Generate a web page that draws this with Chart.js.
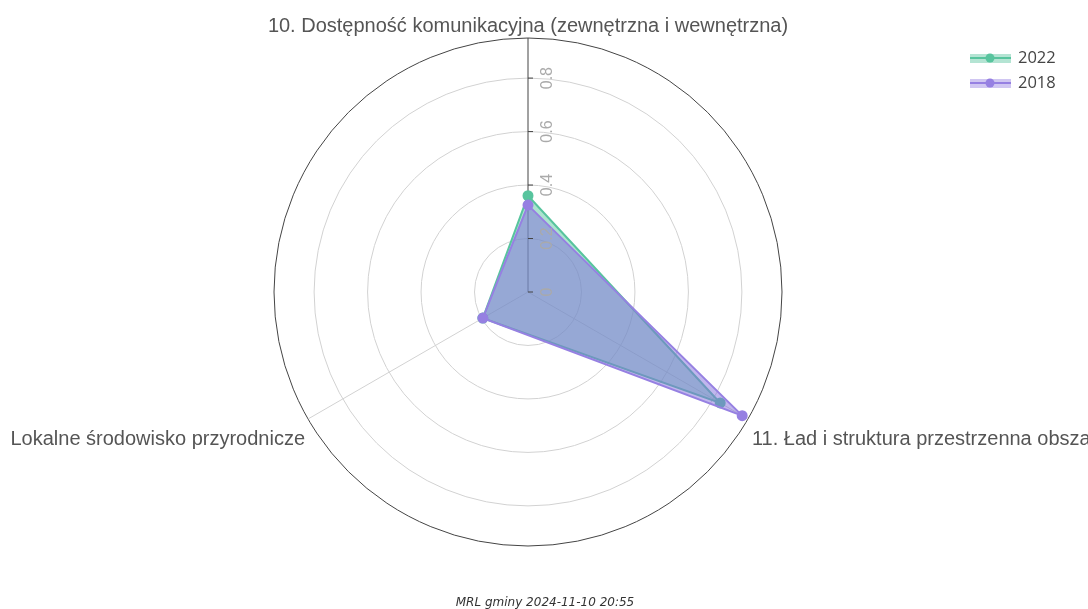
<!DOCTYPE html>
<html>
<head>
<meta charset="utf-8">
<script src="https://cdn.jsdelivr.net/npm/chart.js@4"></script>
<style>
  body { margin: 0; background: #fff; }
  #wrap { width: 1088px; height: 609px; }
</style>
</head>
<body>
<div id="wrap"><canvas id="radar"></canvas></div>
<script>
const categories = [
    '10. Dostępność komunikacyjna (zewnętrzna i wewnętrzna)',
    '11. Ład i struktura przestrzenna obszaru',
    'Lokalne środowisko przyrodnicze'
];
const values2022 = [0.36, 0.83, 0.195];
const values2018 = [0.325, 0.925, 0.195];
const tickValues = [0, 0.2, 0.4, 0.6, 0.8];
const footerText = 'MRL gminy 2024-11-10 20:55';

const teal = 'rgb(88, 196, 158)';
const purple = 'rgb(150, 128, 226)';

// labels, rotated ticks, legend and footer drawn by hand (plotly look)
const decorations = {
    id: 'decorations',
    afterDraw(chart) {
        const ctx = chart.ctx;
        const r = chart.scales.r;
        ctx.save();

        // point labels
        ctx.font = '20px "Liberation Sans", Arial, sans-serif';
        ctx.fillStyle = '#555';
        ctx.textBaseline = 'middle';
        const offs = [[0, -12, 'center'], [4, 20, 'left'], [-3, 20, 'right']];
        categories.forEach((lab, i) => {
            const p = r.getPointPosition(i, r.drawingArea);
            ctx.textAlign = offs[i][2];
            ctx.fillText(lab, p.x + offs[i][0], p.y + offs[i][1]);
        });

        // radial ticks, rotated
        ctx.font = '16px "Liberation Sans", Arial, sans-serif';
        ctx.fillStyle = '#aaa';
        ctx.strokeStyle = '#444';
        ctx.lineWidth = 1;
        tickValues.forEach(v => {
            const d = r.getDistanceFromCenterForValue(v);
            const x = r.xCenter, y = r.yCenter - d;
            ctx.beginPath();
            ctx.moveTo(x, y);
            ctx.lineTo(x + 5, y);
            ctx.stroke();
            ctx.save();
            ctx.translate(x + 20, y);
            ctx.rotate(-Math.PI / 2);
            ctx.textAlign = 'center';
            ctx.textBaseline = 'middle';
            ctx.fillText(String(v), 0, 0);
            ctx.restore();
        });

        // legend
        const items = [['2022', teal, 'rgba(88, 196, 158, 0.45)'], ['2018', purple, 'rgba(150, 128, 226, 0.45)']];
        ctx.font = '16.5px "Open Sans", Arial, sans-serif';
        ctx.textAlign = 'left';
        ctx.textBaseline = 'middle';
        items.forEach((it, k) => {
            const y = 58 + k * 25;
            ctx.fillStyle = it[2];
            ctx.fillRect(970, y - 4, 41, 9);
            ctx.strokeStyle = it[1];
            ctx.lineWidth = 2;
            ctx.beginPath();
            ctx.moveTo(970, y);
            ctx.lineTo(1011, y);
            ctx.stroke();
            ctx.fillStyle = it[1];
            ctx.beginPath();
            ctx.arc(990, y, 4.5, 0, Math.PI * 2);
            ctx.fill();
            ctx.fillStyle = '#444';
            ctx.fillText(it[0], 1018, y);
        });

        // footer
        ctx.font = 'italic 12px "DejaVu Sans", Verdana, sans-serif';
        ctx.fillStyle = '#333';
        ctx.textAlign = 'center';
        ctx.fillText(footerText, 545, 603);
        ctx.restore();
    }
};

new Chart(document.getElementById('radar'), {
    type: 'radar',
    data: {
        labels: categories,
        datasets: [{
            label: '2022',
            data: values2022,
            order: 1,
            borderColor: teal,
            backgroundColor: 'rgba(90, 200, 160, 0.5)',
            pointBackgroundColor: teal,
            pointBorderColor: teal,
            borderWidth: 2,
            pointRadius: 4.5,
            fill: true
        }, {
            label: '2018',
            data: values2018,
            order: 0,
            borderColor: purple,
            backgroundColor: 'rgba(130, 110, 220, 0.5)',
            pointBackgroundColor: purple,
            pointBorderColor: purple,
            borderWidth: 2,
            pointRadius: 4.5,
            fill: true
        }]
    },
    options: {
        responsive: true,
        maintainAspectRatio: false,
        animation: false,
        layout: { padding: { left: 274, right: 306, top: 38, bottom: 63 } },
        plugins: { legend: { display: false }, tooltip: { enabled: false } },
        elements: { line: { tension: 0 } },
        scales: {
            r: {
                min: 0,
                max: 0.95,
                ticks: { display: false, stepSize: 0.2 },
                pointLabels: { display: false },
                grid: {
                    circular: true,
                    color: c => c.tick && c.tick.value >= 0.95 ? '#444' : '#d2d2d2',
                    lineWidth: 1
                },
                angleLines: {
                    color: c => c.index === 0 ? '#444' : '#d2d2d2',
                    lineWidth: 1
                }
            }
        }
    },
    plugins: [decorations]
});
</script>
</body>
</html>
